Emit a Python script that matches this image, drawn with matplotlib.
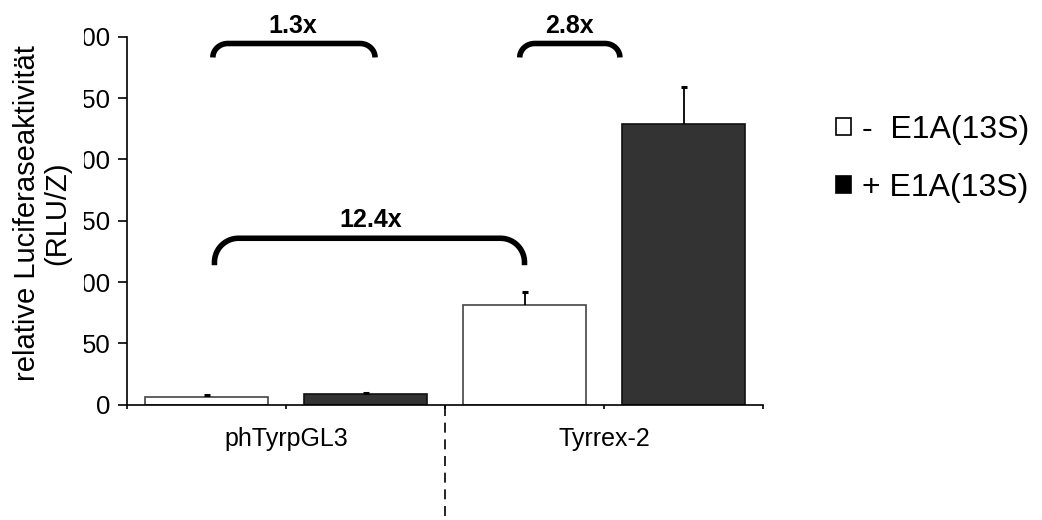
import matplotlib
matplotlib.use("Agg")
import matplotlib.pyplot as plt
import numpy as np
from matplotlib.patches import Patch, Rectangle
import matplotlib.transforms as mtransforms

plt.rcParams['font.family'] = ['Liberation Sans', 'DejaVu Sans']

# ---- data ----
groups = ['phTyrpGL3', 'Tyrrex-2']
series = ['-  E1A(13S)', '+ E1A(13S)']
values = [6.5, 8.5, 81, 229]          # bar order: phTyrpGL3 -, +, Tyrrex-2 -, +
errors = [1.0, 1.0, 11, 30]
bar_colors = ['white', '#333333', 'white', '#333333']
edge_colors = ['#444444', '#111111', '#444444', '#111111']
yticks = [0, 50, 100, 150, 200, 250, 300]

# fold-change annotations
fold_labels = ['1.3x', '2.8x', '12.4x']
fold_x0 = [0.04, 1.97, 0.05]
fold_x1 = [1.06, 2.60, 2.00]
fold_ytop = [294.7, 294.7, 135.7]
fold_ybot = [283.3, 283.3, 113.7]
fold_rad = [15, 15, 24]
fold_tx = [0.54, 2.28, 1.03]
fold_ty = [309, 309, 150.5]

W, H = 1042, 520
fig = plt.figure(figsize=(W / 100, H / 100), dpi=100)
ax_l, ax_r, ax_b, ax_t = 127, 763, 404.5, 37
ax = fig.add_axes([ax_l / W, 1 - ax_b / H, (ax_r - ax_l) / W, (ax_b - ax_t) / H])

x = np.arange(len(values))
ax.bar(x, values, width=0.774, color=bar_colors, edgecolor=edge_colors,
       linewidth=1.2, zorder=2)
eb = ax.errorbar(x, values, yerr=[np.zeros(len(errors)), errors], fmt='none',
                 ecolor='black', elinewidth=1.3, capsize=2.3, capthick=2.2, zorder=3)
# only the upper cap is shown
eb[1][0].set_visible(False)

ax.set_xlim(-0.5, len(values) - 0.5)
ax.set_ylim(0, 300)
ax.set_yticks(yticks)
ax.set_yticklabels([str(v) for v in yticks])
ax.set_xticks(np.arange(-0.5, len(values), 1.0))
ax.set_xticklabels(['', groups[0], '', groups[1], ''])

for s in ['top', 'right']:
    ax.spines[s].set_visible(False)
for s in ['left', 'bottom']:
    ax.spines[s].set_linewidth(1.2)
ax.tick_params(axis='y', direction='out', length=6.5, width=1.2, pad=5.5,
               labelsize=18.5)
ax.tick_params(axis='x', direction='out', length=3, width=1.2, pad=13,
               labelsize=18)

# dashed separator between groups
trans = mtransforms.blended_transform_factory(ax.transData, ax.transAxes)
ax.plot([1.5, 1.5], [-0.005, -(H - ax_b) / (ax_b - ax_t)], transform=trans,
        color='black', linestyle=(0, (6, 4)), linewidth=1.2, clip_on=False)

# fold-change brackets
px_per_x = (ax_r - ax_l) / 4.0
px_per_y = (ax_b - ax_t) / 300.0
for x0, x1, yt, yb, r, lab, tx, ty in zip(fold_x0, fold_x1, fold_ytop, fold_ybot,
                                          fold_rad, fold_labels, fold_tx, fold_ty):
    rx = r / px_per_x
    ry = min(r, (yt - yb) * px_per_y) / px_per_y
    t = np.linspace(np.pi, np.pi / 2, 20)
    left_arc = np.column_stack([x0 + rx + rx * np.cos(t), yt - ry + ry * np.sin(t)])
    t2 = np.linspace(np.pi / 2, 0, 20)
    right_arc = np.column_stack([x1 - rx + rx * np.cos(t2), yt - ry + ry * np.sin(t2)])
    pts = np.vstack([[x0, yb], left_arc, right_arc, [x1, yb]])
    ax.plot(pts[:, 0], pts[:, 1], color='black', linewidth=4, clip_on=False,
            solid_capstyle='butt', solid_joinstyle='round', zorder=4)
    ax.text(tx, ty, lab, ha='center', va='center', fontsize=18,
            fontweight='bold', clip_on=False)

# white area that overlaps leading digits (as in original) + y label
fig.patches.append(Rectangle((0, 0), 84 / W, 1, transform=fig.transFigure,
                             facecolor='white', edgecolor='none', zorder=5))
fig.text(42 / W, 1 - 213 / H, 'relative Luciferaseaktivität\n(RLU/Z)',
         rotation=90, ha='center', va='center', fontsize=21,
         multialignment='center', linespacing=1.1, zorder=6)

# legend
handles = [Patch(facecolor=bar_colors[0], edgecolor='black', linewidth=1.2),
           Patch(facecolor='black', edgecolor='black', linewidth=1.2)]
leg = ax.legend(handles, series, loc='center left',
                bbox_to_anchor=(836 / W, 1 - 159 / H), bbox_transform=fig.transFigure,
                frameon=False, fontsize=23, handlelength=0.47, handleheight=0.47,
                handletextpad=0.34, labelspacing=0.88, borderpad=0, borderaxespad=0)

fig.savefig('out.png', dpi=100)
